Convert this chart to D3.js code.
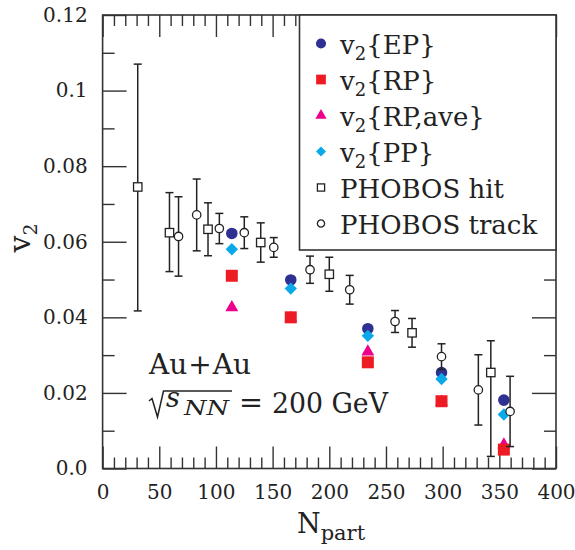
<!DOCTYPE html>
<html>
<head>
<meta charset="utf-8">
<script src="https://cdn.jsdelivr.net/npm/d3@7"></script>
<style>
  html, body { margin: 0; padding: 0; background: #fff; }
  svg text { font-family: "DejaVu Serif", serif; fill: #222; }
</style>
</head>
<body>
<svg id="chart" width="575" height="550"></svg>
<script>
// Elliptic flow v2 vs. number of participants, Au+Au at 200 GeV

// STAR-style methods, all at the same centralities
const npartStar = [114, 166, 234, 299, 354];
const v2EP    = [0.0622, 0.0499, 0.0370, 0.0254, 0.0181];
const v2RP    = [0.0510, 0.0400, 0.0281, 0.0178, 0.0050];
const v2RPave = [0.0426, 0.0398, 0.0309, 0.0176, 0.0063];
const v2PP    = [0.0580, 0.0476, 0.0351, 0.0237, 0.0143];

// PHOBOS hit-based analysis (value, upper error, lower error)
const hitNpart = [31, 59, 93, 139.5, 200, 273, 342.5];
const hitV2    = [0.0745, 0.0624, 0.0633, 0.0598, 0.0514, 0.0359, 0.0254];
const hitErrHi = [0.0325, 0.0106, 0.0070, 0.0052, 0.0045, 0.0038, 0.0084];
const hitErrLo = [0.0328, 0.0103, 0.0070, 0.0052, 0.0045, 0.0038, 0.0222];

// PHOBOS track-based analysis
const trackNpart = [67, 83, 103, 125, 151, 183, 218, 258, 299, 331.5, 359.5];
const trackV2    = [0.0614, 0.0671, 0.0635, 0.0624, 0.0585, 0.0526, 0.0473, 0.0389, 0.0296, 0.0208, 0.0151];
const trackErr   = [0.0105, 0.0095, 0.0040, 0.0042, 0.0026, 0.0036, 0.0038, 0.0029, 0.0034, 0.0093, 0.0093];

const xTicks = [0, 50, 100, 150, 200, 250, 300, 350, 400];
const yTicks = [0, 0.02, 0.04, 0.06, 0.08, 0.10, 0.12];
const yTickLabels = ["0.0", "0.02", "0.04", "0.06", "0.08", "0.1", "0.12"];

const legendLabels = ["{EP}", "{RP}", "{RP,ave}", "{PP}", "PHOBOS hit", "PHOBOS track"];

const colEP = "#2e3192", colRP = "#ed1c24", colRPave = "#ec008c", colPP = "#0ba9e9";
const ink = "#222";
const serif = "DejaVu Serif, serif";

const svg = d3.select("#chart");
const L = 102.6, R = 556, T = 15, B = 468.5;

const x = d3.scaleLinear().domain([0, 400]).range([L, R]);
const y = d3.scaleLinear().domain([0, 0.12]).range([B, T]);

// ---- axes: inward ticks on all four sides ----
const xMinor = d3.range(0, 401, 10).filter(v => v % 50 !== 0);
const yMinor = d3.range(0.01, 0.12, 0.02);

function tickStyle(g) {
  g.select(".domain").remove();
  g.selectAll(".tick line").attr("stroke", "#333").attr("stroke-width", 1.4);
  g.selectAll(".tick text").attr("fill", ink).style("font-size", "20px")
    .style("font-family", serif);
}

svg.append("g").attr("transform", `translate(0,${B})`)
  .call(d3.axisBottom(x).tickValues(xTicks).tickFormat(d3.format("d")).tickSize(-22).tickPadding(16))
  .call(tickStyle);
svg.append("g").attr("transform", `translate(0,${B})`)
  .call(d3.axisBottom(x).tickValues(xMinor).tickFormat("").tickSize(-11))
  .call(tickStyle);
svg.append("g").attr("transform", `translate(0,${T})`)
  .call(d3.axisTop(x).tickValues(xTicks).tickFormat("").tickSize(-22))
  .call(tickStyle);
svg.append("g").attr("transform", `translate(0,${T})`)
  .call(d3.axisTop(x).tickValues(xMinor).tickFormat("").tickSize(-11))
  .call(tickStyle);

svg.append("g").attr("transform", `translate(${L},0)`)
  .call(d3.axisLeft(y).tickValues(yTicks).tickFormat((d, i) => yTickLabels[i]).tickSize(-24).tickPadding(15))
  .call(tickStyle);
svg.append("g").attr("transform", `translate(${L},0)`)
  .call(d3.axisLeft(y).tickValues(yMinor).tickFormat("").tickSize(-12))
  .call(tickStyle);
svg.append("g").attr("transform", `translate(${R},0)`)
  .call(d3.axisRight(y).tickValues(yTicks).tickFormat("").tickSize(-24))
  .call(tickStyle);
svg.append("g").attr("transform", `translate(${R},0)`)
  .call(d3.axisRight(y).tickValues(yMinor).tickFormat("").tickSize(-12))
  .call(tickStyle);

svg.append("rect")
  .attr("x", L).attr("y", T).attr("width", R - L).attr("height", B - T)
  .attr("fill", "none").attr("stroke", "#333").attr("stroke-width", 1.6);

// ---- axis titles ----
const yTitle = svg.append("text")
  .attr("transform", "translate(30,238) rotate(-90)")
  .attr("text-anchor", "middle")
  .style("font-size", "30px");
yTitle.append("tspan").text("v");
yTitle.append("tspan").attr("dy", 7).style("font-size", "19px").text("2");

const xTitle = svg.append("text")
  .attr("x", 297).attr("y", 533)
  .style("font-size", "27px");
xTitle.append("tspan").text("N");
xTitle.append("tspan").attr("dy", 7).style("font-size", "21px").text("part");

// ---- marker helpers ----
const sym = (type, size) => d3.symbol().type(type).size(size)();
const diamond = s => `M0,${-s}L${s},0L0,${s}L${-s},0Z`;

function plotSeries(xs, ys, pathStr, color) {
  svg.append("g").selectAll("path").data(xs).join("path")
    .attr("transform", (d, i) => `translate(${x(d)},${y(ys[i])})`)
    .attr("d", pathStr).attr("fill", color);
}

plotSeries(npartStar, v2EP, sym(d3.symbolCircle, 105), colEP);
plotSeries(npartStar, v2RPave, sym(d3.symbolTriangle, 72), colRPave);
plotSeries(npartStar, v2RP, sym(d3.symbolSquare, 144), colRP);
plotSeries(npartStar, v2PP, diamond(6.2), colPP);

// ---- PHOBOS points with error bars ----
function errorBars(xs, ys, hi, lo) {
  const g = svg.append("g").attr("stroke", ink).attr("stroke-width", 1.5).attr("fill", "none");
  xs.forEach((xv, i) => {
    const cx = x(xv), top = y(ys[i] + hi[i]), bot = y(ys[i] - lo[i]);
    g.append("line").attr("x1", cx).attr("x2", cx).attr("y1", top).attr("y2", bot);
    g.append("line").attr("x1", cx - 4).attr("x2", cx + 4).attr("y1", top).attr("y2", top);
    g.append("line").attr("x1", cx - 4).attr("x2", cx + 4).attr("y1", bot).attr("y2", bot);
  });
}
errorBars(hitNpart, hitV2, hitErrHi, hitErrLo);
errorBars(trackNpart, trackV2, trackErr, trackErr);

svg.append("g").selectAll("rect").data(hitNpart).join("rect")
  .attr("x", d => x(d) - 4.2).attr("y", (d, i) => y(hitV2[i]) - 4.2)
  .attr("width", 8.4).attr("height", 8.4)
  .attr("fill", "#fff").attr("stroke", ink).attr("stroke-width", 1.3);
svg.append("g").selectAll("circle").data(trackNpart).join("circle")
  .attr("cx", d => x(d)).attr("cy", (d, i) => y(trackV2[i])).attr("r", 4.2)
  .attr("fill", "#fff").attr("stroke", ink).attr("stroke-width", 1.3);

// ---- legend ----
const lg = svg.append("g");
lg.append("rect").attr("x", 299.5).attr("y", T).attr("width", R - 299.5).attr("height", 235)
  .attr("fill", "#fff").attr("stroke", "#333").attr("stroke-width", 1.6);

const legendMarks = [
  g => g.append("path").attr("d", sym(d3.symbolCircle, 80)).attr("fill", colEP),
  g => g.append("path").attr("d", sym(d3.symbolSquare, 95)).attr("fill", colRP),
  g => g.append("path").attr("d", sym(d3.symbolTriangle, 55)).attr("fill", colRPave),
  g => g.append("path").attr("d", diamond(5)).attr("fill", colPP),
  g => g.append("rect").attr("x", -3.6).attr("y", -3.6).attr("width", 7.2).attr("height", 7.2)
        .attr("fill", "#fff").attr("stroke", ink).attr("stroke-width", 1.3),
  g => g.append("circle").attr("r", 3.6).attr("fill", "#fff").attr("stroke", ink).attr("stroke-width", 1.3)
];

legendLabels.forEach((lab, i) => {
  const base = 53.5 + i * 36;
  const mg = lg.append("g").attr("transform", `translate(321,${base - 10})`);
  legendMarks[i](mg);
  const t = lg.append("text").attr("x", 340).attr("y", base).style("font-size", "26px");
  if (i < 4) {
    t.append("tspan").text("v");
    t.append("tspan").attr("dy", 6.5).style("font-size", "18px").text("2");
    t.append("tspan").attr("dy", -6.5).text(lab);
  } else {
    t.append("tspan").text(lab);
  }
});

// ---- system annotation ----
const ann = svg.append("text").attr("x", 149).attr("y", 374).style("font-size", "28px");
ann.append("tspan").text("Au");
ann.append("tspan").attr("dx", 1).text("+");
ann.append("tspan").attr("dx", 1).text("Au");

svg.append("path")
  .attr("d", "M149,401 L152,398.5 L157.5,417 L163.5,391 L232,391")
  .attr("fill", "none").attr("stroke", ink).attr("stroke-width", 1.5).attr("stroke-linejoin", "miter");
svg.append("text").attr("x", 166).attr("y", 407).style("font-size", "27px").style("font-style", "italic").text("s");
svg.append("text").attr("x", 184).attr("y", 415).style("font-size", "20px").style("font-style", "italic")
  .attr("textLength", 45).attr("lengthAdjust", "spacingAndGlyphs").text("NN");
svg.append("text").attr("x", 239).attr("y", 412).style("font-size", "28px")
  .attr("textLength", 24).attr("lengthAdjust", "spacingAndGlyphs").text("=");
svg.append("text").attr("x", 272).attr("y", 413).attr("textLength", 116).attr("lengthAdjust", "spacingAndGlyphs")
  .style("font-size", "27px").text("200 GeV");
</script>
</body>
</html>
